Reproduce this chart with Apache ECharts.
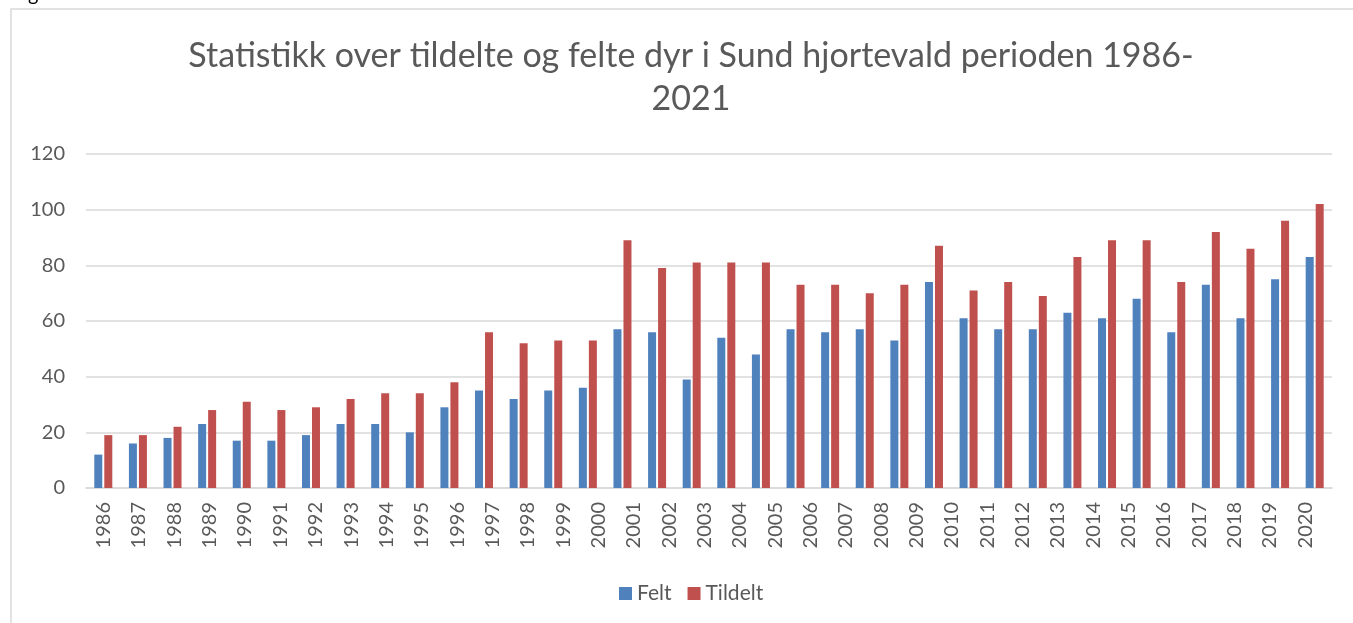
<!DOCTYPE html>
<html>
<head>
<meta charset="utf-8">
<style>
  html, body { margin: 0; padding: 0; background: #fff; }
  #chart { width: 1353px; height: 623px; }
</style>
<script src="https://cdn.jsdelivr.net/npm/echarts@6/dist/echarts.min.js"></script>
</head>
<body>
<div id="chart"></div>
<script>
// one bar pair per year 1986-2021, but the axis only labels 1986-2020 (as in the original)
let years = ['1986','1987','1988','1989','1990','1991','1992','1993','1994','1995','1996','1997',
    '1998','1999','2000','2001','2002','2003','2004','2005','2006','2007','2008','2009',
    '2010','2011','2012','2013','2014','2015','2016','2017','2018','2019','2020','2021'];
let tickLabels = years.slice(0, 35);

let felt = [12,16,18,23,17,17,19,23,23,20,29,35,32,35,36,57,56,39,54,48,57,56,57,53,
    74,61,57,57,63,61,68,56,73,61,75,83];
let tildelt = [19,19,22,28,31,28,29,32,34,34,38,56,52,53,53,89,79,81,81,81,73,73,70,73,
    87,71,74,69,83,89,89,74,92,86,96,102];

let yTicks = {min: 0, max: 120, interval: 20};

let textColor = '#595959';
let lineColor = '#d9d9d9';
let font = 'Lato';

let myChart = echarts.init(document.getElementById('chart'));

option = {
    animation: false,
    textStyle: {fontFamily: font},
    title: {
        text: 'Statistikk over tildelte og felte dyr i Sund hjortevald perioden 1986-\n2021',
        left: 686,
        top: 30,
        textAlign: 'center',
        textStyle: {
            fontFamily: font,
            fontSize: 34,
            fontWeight: 'normal',
            color: textColor,
            lineHeight: 43
        }
    },
    legend: {
        data: ['Felt', 'Tildelt'],
        left: 614,
        top: 578,
        itemWidth: 13,
        itemHeight: 13,
        itemGap: 16,
        icon: 'rect',
        textStyle: {fontFamily: font, fontSize: 21, color: textColor}
    },
    grid: [
        {left: 86, right: 21, top: 154, bottom: 135},
        // label grid, slightly narrower, carries only the year labels
        {left: 86, right: 30, top: 154, bottom: 135}
    ],
    xAxis: [
        {
            type: 'category',
            gridIndex: 0,
            data: years,
            axisLine: {lineStyle: {color: lineColor, width: 1.5}},
            axisTick: {show: false},
            axisLabel: {show: false}
        },
        {
            type: 'category',
            gridIndex: 1,
            data: tickLabels,
            axisLine: {show: false},
            axisTick: {show: false},
            axisLabel: {
                rotate: 90,
                margin: 14,
                fontFamily: font,
                fontSize: 20,
                color: textColor
            }
        }
    ],
    yAxis: [
        {
            type: 'value',
            gridIndex: 0,
            min: yTicks.min,
            max: yTicks.max,
            interval: yTicks.interval,
            axisLine: {show: false},
            axisTick: {show: false},
            splitLine: {lineStyle: {color: lineColor, width: 1.5}},
            axisLabel: {margin: 21, fontFamily: font, fontSize: 20, color: textColor}
        },
        {
            type: 'value',
            gridIndex: 1,
            min: yTicks.min,
            max: yTicks.max,
            show: false
        }
    ],
    series: [
        {
            name: 'Felt',
            type: 'bar',
            xAxisIndex: 0,
            yAxisIndex: 0,
            barWidth: 8,
            barGap: '25%',
            itemStyle: {color: '#4f81bd'},
            data: felt
        },
        {
            name: 'Tildelt',
            type: 'bar',
            xAxisIndex: 0,
            yAxisIndex: 0,
            barWidth: 8,
            barGap: '25%',
            itemStyle: {color: '#c0504d'},
            data: tildelt
        }
    ],
    graphic: [
        {
            // chart frame, runs off the right and bottom of the crop
            type: 'rect',
            shape: {x: 11, y: 9, width: 1400, height: 700},
            style: {fill: null, stroke: lineColor, lineWidth: 1.5},
            silent: true
        },
        {
            // cut-off letter from the document text above the chart
            type: 'text',
            x: 28,
            y: 5,
            style: {text: 'g', fill: '#000', font: '20px Lato', verticalAlign: 'bottom'},
            silent: true
        }
    ]
};
myChart.setOption(option);
</script>
</body>
</html>
